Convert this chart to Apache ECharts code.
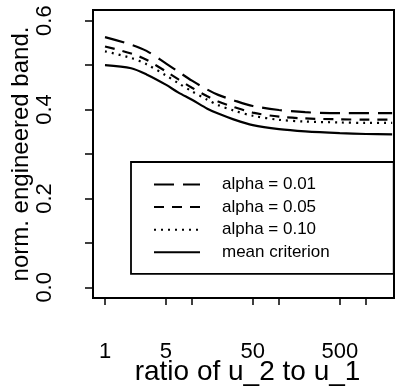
<!DOCTYPE html>
<html>
<head>
<meta charset="utf-8">
<script src="https://cdn.jsdelivr.net/npm/echarts@6/dist/echarts.min.js"></script>
<style>
html,body{margin:0;padding:0;background:#fff;}
#chart{width:399px;height:387px;}
</style>
</head>
<body>
<div id="chart"></div>
<script>
// Data
const ratios = [1, 2, 3, 5, 7, 10, 15, 20, 30, 50, 100, 200, 500, 1000, 2000];
const alpha001 = [0.563, 0.546, 0.532, 0.504, 0.485, 0.465, 0.445, 0.433, 0.421, 0.408, 0.399, 0.394, 0.392, 0.392, 0.392];
const alpha005 = [0.542, 0.526, 0.512, 0.486, 0.468, 0.449, 0.430, 0.418, 0.406, 0.393, 0.384, 0.380, 0.378, 0.3775, 0.3775];
const alpha010 = [0.531, 0.516, 0.502, 0.477, 0.459, 0.441, 0.422, 0.410, 0.398, 0.386, 0.377, 0.373, 0.371, 0.370, 0.370];
const meanCrit = [0.500, 0.493, 0.479, 0.456, 0.438, 0.422, 0.402, 0.391, 0.378, 0.365, 0.356, 0.351, 0.347, 0.345, 0.344];
const seriesNames = ['alpha = 0.01', 'alpha = 0.05', 'alpha = 0.10', 'mean criterion'];
const xTicks = [1, 5, 10, 50, 100, 500, 1000];
const xTickLabels = [1, 5, 50, 500];
const yTicks = [0, 0.1, 0.2, 0.3, 0.4, 0.5, 0.6];
const yTickLabels = [0, 0.2, 0.4, 0.6];

const FONT = "'Liberation Sans', Arial, sans-serif";
const pair = (ys) => ratios.map((x, i) => [x, ys[i]]);
const styles = [
  {type: [20, 9], width: 2.2},
  {type: [10, 8], width: 2.2},
  {type: [2, 5], width: 2.2},
  {type: 'solid', width: 2.2}
];
const allData = [alpha001, alpha005, alpha010, meanCrit];

const chart = echarts.init(document.getElementById('chart'), null, {renderer: 'canvas'});
chart.setOption({
  backgroundColor: '#fff',
  animation: false,
  textStyle: {fontFamily: FONT},
  grid: {left: 93, top: 10, right: 5, bottom: 89, show: true, borderColor: '#000', borderWidth: 2, backgroundColor: 'transparent', outerBoundsMode: 'none', containLabel: false},
  xAxis: {
    type: 'log', logBase: 10, min: 0.728, max: 2100,
    splitLine: {show: false},
    axisLine: {show: true, onZero: false, lineStyle: {color: '#000', width: 2}},
    axisTick: {show: true, inside: false, length: 7, lineStyle: {color: '#000', width: 1.5}, customValues: xTicks},
    axisLabel: {show: true, margin: 43, color: '#000', fontSize: 22, fontFamily: FONT, customValues: xTickLabels, formatter: (v) => String(Math.round(v))},
    minorTick: {show: false},
    name: 'ratio of u_2 to u_1', nameLocation: 'middle', nameGap: 60, nameMoveOverlap: false,
    nameTextStyle: {fontSize: 28, color: '#000', fontFamily: FONT, padding: [0, 0, 0, 8]}
  },
  yAxis: {
    type: 'value', min: -0.024, max: 0.624,
    splitLine: {show: false},
    axisLine: {show: true, onZero: false, lineStyle: {color: '#000', width: 2}},
    axisTick: {show: true, inside: false, length: 8, lineStyle: {color: '#000', width: 1.5}, customValues: yTicks},
    axisLabel: {show: true, rotate: 90, margin: 37, color: '#000', fontSize: 22, fontFamily: FONT, customValues: yTickLabels, formatter: (v) => v.toFixed(1)},
    name: 'norm. engineered band.', nameLocation: 'middle', nameGap: 60, nameMoveOverlap: false,
    nameTextStyle: {fontSize: 24, color: '#000', fontFamily: FONT}
  },
  legend: {
    orient: 'vertical', left: 131, top: 162,
    data: seriesNames,
    itemWidth: 46, itemHeight: 14, itemGap: 5.6,
    padding: [14, 64, 13, 22],
    borderColor: '#000', borderWidth: 1.8, backgroundColor: '#fff',
    itemStyle: {color: 'rgba(0,0,0,0)', borderColor: 'rgba(0,0,0,0)', borderWidth: 0, opacity: 0},
    textStyle: {fontSize: 17, color: '#000', fontFamily: FONT, lineHeight: 14, padding: [0, 0, 0, 17]},
    selectedMode: false
  },
  series: allData.map((d, i) => ({
    name: seriesNames[i], type: 'line', data: pair(d), smooth: 0.3,
    symbol: 'none', showSymbol: false, color: '#000',
    lineStyle: {color: '#000', width: styles[i].width, type: styles[i].type},
    z: 2
  }))
});
</script>
</body>
</html>
